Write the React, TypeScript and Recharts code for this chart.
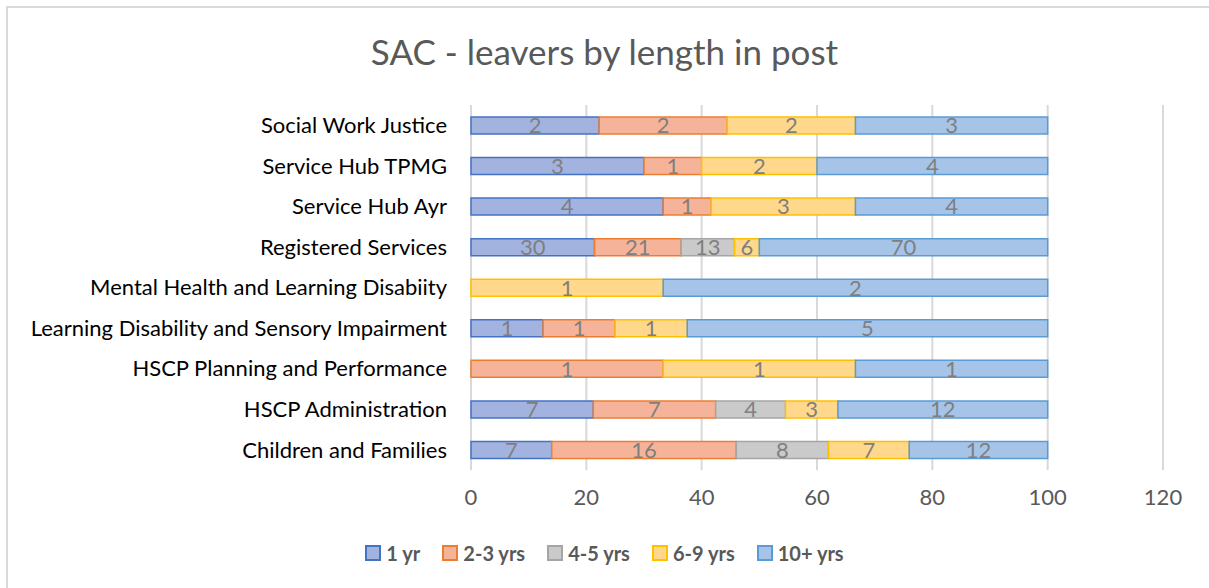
import React from 'react';
import { BarChart, Bar, XAxis, YAxis, CartesianGrid, LabelList } from 'recharts';

const categories = [
  'Social Work Justice',
  'Service Hub TPMG',
  'Service Hub Ayr',
  'Registered Services',
  'Mental Health and Learning Disabiity',
  'Learning Disability and Sensory Impairment',
  'HSCP Planning and Performance',
  'HSCP Administration',
  'Children and Families',
];
const yr1 = [2, 3, 4, 30, 0, 1, 0, 7, 7];
const yrs2to3 = [2, 1, 1, 21, 0, 1, 1, 7, 16];
const yrs4to5 = [0, 0, 0, 13, 0, 0, 0, 4, 8];
const yrs6to9 = [2, 2, 3, 6, 1, 1, 1, 3, 7];
const yrs10plus = [3, 4, 4, 70, 2, 5, 1, 12, 12];
const xTicks = [0, 20, 40, 60, 80, 100, 120];

const seriesList = [
  { key: 's1', name: '1 yr', values: yr1, fill: '#a3b3e0', stroke: '#4472c4' },
  { key: 's2', name: '2-3 yrs', values: yrs2to3, fill: '#f5b49a', stroke: '#ed7d31' },
  { key: 's3', name: '4-5 yrs', values: yrs4to5, fill: '#cacaca', stroke: '#a5a5a5' },
  { key: 's4', name: '6-9 yrs', values: yrs6to9, fill: '#ffd88c', stroke: '#ffc000' },
  { key: 's5', name: '10+ yrs', values: yrs10plus, fill: '#a6c4e8', stroke: '#5b9bd5' },
];

const data = categories.map((name, i) => {
  const total = seriesList.reduce((s, se) => s + se.values[i], 0);
  const row: any = { name };
  seriesList.forEach((se) => {
    row[se.key] = (se.values[i] / total) * 100;
    row[se.key + 'c'] = se.values[i];
  });
  return row;
});

const FONT = 'Lato, "Open Sans", sans-serif';

export default function App() {
  return (
    <div style={{ position: 'absolute', left: 0, top: 0, width: 1209, height: 588, overflow: 'hidden', background: '#fff', fontFamily: FONT }}>
      <div style={{ position: 'absolute', left: 6, top: 6, width: 1220, height: 600, border: '2px solid #d9d9d9', boxSizing: 'border-box' }} />
      <div style={{ position: 'absolute', left: 0, top: 29, width: 1209, textAlign: 'center', fontSize: 35, lineHeight: '44px', color: '#595959' }}>
        SAC - leavers by length in post
      </div>
      <div style={{ position: 'absolute', left: 0, top: 0 }}>
        <BarChart
          width={1209}
          height={588}
          data={data}
          layout="vertical"
          margin={{ top: 105, right: 46, bottom: 78, left: 0 }}
          barSize={17}
        >
          <CartesianGrid horizontal={false} vertical stroke="#d9d9d9" strokeWidth={2} />
          <XAxis
            type="number"
            domain={[0, 120]}
            ticks={xTicks}
            axisLine={false}
            tickLine={false}
            tickSize={0}
            tickMargin={19}
            height={40}
            tick={{ fill: '#595959', fontSize: 22, fontFamily: FONT }}
            interval={0}
          />
          <YAxis
            type="category"
            dataKey="name"
            width={471}
            axisLine={false}
            tickLine={false}
            tickSize={0}
            tickMargin={24}
            interval={0}
            tick={{ fill: '#000', fontSize: 22, fontFamily: FONT }}
          />
          {seriesList.map((se) => (
            <Bar
              key={se.key}
              dataKey={se.key}
              name={se.name}
              stackId="a"
              fill={se.fill}
              stroke={se.stroke}
              strokeWidth={1.5}
              isAnimationActive={false}
            >
              <LabelList
                dataKey={se.key + 'c'}
                position="center"
                formatter={(v: any) => (v ? v : '')}
                fill="#7f7f7f"
                style={{ fontSize: 22, fontFamily: FONT }}
              />
            </Bar>
          ))}
        </BarChart>
      </div>
      <div style={{ position: 'absolute', left: 0, top: 541, width: 1209, display: 'flex', justifyContent: 'center', gap: 22, fontSize: 20, fontWeight: 'bold', color: '#595959' }}>
        {seriesList.map((se) => (
          <div key={se.key} style={{ display: 'flex', alignItems: 'center' }}>
            <div style={{ width: 12, height: 12, background: se.fill, border: `2px solid ${se.stroke}`, marginRight: 5 }} />
            <span>{se.name}</span>
          </div>
        ))}
      </div>
    </div>
  );
}
